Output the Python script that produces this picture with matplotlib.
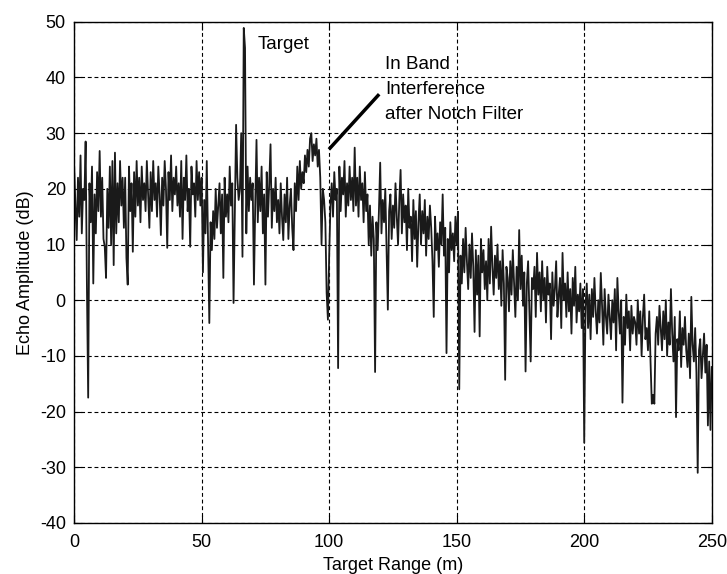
import numpy as np
import matplotlib.pyplot as plt

plt.rcParams['font.family'] = ['Liberation Sans', 'DejaVu Sans']
plt.rcParams['axes.unicode_minus'] = False

# target range samples, 0.5 m step
range_m = np.arange(0, 250.5, 0.5)

# echo amplitude (dB), one row per 10 m
echo_db = [
    24, 17, 10.8, 22, 15, 26, 12, 20, 18, 28.5, 2.8, -17.5, 21, 14, 24, 3, 19, 12, 23, 16,
    26.8, 15, 22, 11, 9.6, 4, 20, 13, 24, 10, 25, 6.3, 26.5, 12, 21, 14, 25, 17, 22, 13,
    22, 7.6, 2.8, 24, 16, 21, 8.7, 23, 15, 25, 17, 22, 14, 24, 18, 21, 16, 25, 19, 13,
    23, 16, 25, 18, 21, 15, 24, 19, 11.7, 22, 17, 25, 20, 9.4, 23, 18, 26, 16, 22, 19,
    24, 17, 21, 15, 25, 11, 22, 18, 26, 16, 20, 9.6, 24, 19, 21, 15, 25, 18, 23, 17,
    22, 5, 18, 12, 25, 10, -4.1, 14, 9, 16, 11, 20, 13, 17, 21, 12, 19, 4, 22, 15,
    19, 14, 24, 17, 21, -0.5, 16, 31.5, 22, 18, 20, 30, 7.8, 48.9, 45.3, 12, 24, 16, 22, 18,
    21, 2.8, 17, 28.8, 14, 22, 16, 24, 12, 19, 2.8, 23, 15, 21, 28, 13, 20, 16, 22, 14,
    18, 12, 21, 15, 10.8, 19, 14, 22, 11, 17, 20, 13, 9, 21, 16, 24, 18, 25, 20, 23,
    21, 26, 23, 27, 24, 29, 30, 25, 28, 26, 29, 24, 27, 22, 10, 20, 18, 14, 1.3, -3.5,
    8, 17, 21, 15, 23, 18, 20, -12.2, 24, 16, 22, 19, 25, 15, 21, 17, 24, 18, 22, 16,
    27.4, 17, 22, 15, 24, 18, 21, 14, 23, 16, 19, 10, 17, 8, 15, 11, -12.9, 14, 9, 16,
    24.7, 12, 18, 14, 20, 9, -1.7, 16, 19, 11, 17, 13, 21, 15, 10, 18, 23.4, 12, 19, 14,
    17, 9, 20, 13, 15, 7, 18, 11, 16, 6, 14, 19, 10, 16, 12, 18, 8, 15, 11, 17,
    13, 7, -3, 15, 9, 12, 6, 14, 10, 19, 8, 13, -9.5, 11, 5, 14, 9, 12, 7, 15,
    10, 15.9, -16, 8, 3, 11, 5, 13, 7, 2, 10, 4, 12, 6, -5.7, 9, 1, 8, -6.5, 11,
    5, 9, 2, 7, 0, 11, 3, 13.2, 6, 1, 8, 4, 10, 2, 7, -1, 9, 3, -14.3, 6,
    4, -2, 7, 1, 9, 3, -3, 6, 0, 12.6, 2, 8, -1, 5, -12.8, 3, 7, -2, -11, 4,
    2, 6, -3, 8.5, 1, 5, -2, 7, 0, 4, -4, 6, 1, 3, -7, 5, -1, 2, 7, -3,
    1, 4, -5, 8.5, 0, 3, -3, 5, -2, 2, -6, 4, -1, 6, -4, 1, -2, 3, -5, 2,
    -25.6, -1, 3, -5, 1, -7, 2, -3, 4, -2, -6, 0, -4, 4.9, -1, -8, 2, -3, -6, 1,
    -3, -7, 0, -4, 2, -9, 4, -2, -6, 0, -18.4, -3, -8, 1, -5, -2, -9, -1, -6, -3,
    -4, -8, 0, -6, -2, -10, -3, 1, -7, -5, -9, -2, -11, -18.6, -17, -18.6, -6, -3, -8, -1,
    -5, -9, -2, -7, 0, -10, -4, -8, 2, -6, -11, -3, -21, -7, -9, -2, -12, -5, -8, -3,
    -9, -12, -6, -14, 0.6, -8, -11, -5, -13, -31, -9, -7, -14, -10, -6, -13, -8, -22.5, -11, -23.3,
    -12,
]

x_ticks = [0, 50, 100, 150, 200, 250]
y_ticks = [-40, -30, -20, -10, 0, 10, 20, 30, 40, 50]

fig = plt.figure(figsize=(7.27, 5.74), dpi=100)
ax = fig.add_axes([0.102, 0.089, 0.877, 0.873])

ax.plot(range_m, echo_db, color='#1a1a1a', lw=1.3)

ax.set_xlim(0, 250)
ax.set_ylim(-40, 50)
ax.set_xticks(x_ticks)
ax.set_yticks(y_ticks)
ax.grid(True, color='black', linestyle=(0, (3.5, 2.5)), linewidth=0.8)
ax.tick_params(direction='in', top=True, right=True, length=6, labelsize=13)
ax.tick_params(axis='x', pad=8)
ax.tick_params(axis='y', pad=6)
for s in ax.spines.values():
    s.set_linewidth(1.0)

ax.set_xlabel('Target Range (m)', fontsize=13, labelpad=4)
ax.set_ylabel('Echo Amplitude (dB)', fontsize=13, labelpad=4)

# annotations
ax.text(72, 46.0, 'Target', fontsize=13.5, ha='left', va='center')
ax.plot([99.9, 119.6], [27.1, 37.0], color='black', lw=2.5, solid_capstyle='butt')
ax.text(122, 43.8, 'In Band\nInterference\nafter Notch Filter', fontsize=13.5,
        ha='left', va='top', linespacing=1.6)

fig.savefig('out.png', dpi=100)
